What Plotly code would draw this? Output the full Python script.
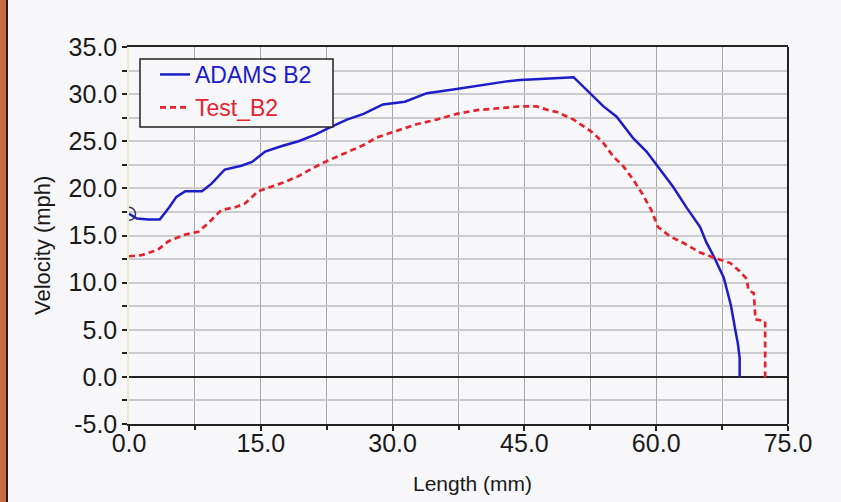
import plotly.graph_objects as go

# ---- data ----
adams_x = [0, 0.9, 2.2, 3.5, 4.5, 5.4, 6.4, 8.3, 9.4, 10.9, 12.8, 14.0, 15.5, 17.4, 19.3,
           21.2, 22.7, 24.8, 26.7, 28.9, 31.4, 33.9, 36.9, 39.6, 42.6, 44.5, 47.7, 49.0,
           50.6, 52.5, 54.0, 55.5, 57.4, 58.9, 60.4, 61.9, 63.5, 65.0, 65.7, 66.6, 67.7,
           68.5, 69.0, 69.3, 69.5, 69.5]
adams_y = [17.3, 16.8, 16.7, 16.7, 17.9, 19.1, 19.7, 19.7, 20.5, 22.0, 22.4, 22.8, 23.9,
           24.5, 25.0, 25.7, 26.4, 27.3, 27.9, 28.9, 29.2, 30.1, 30.5, 30.9, 31.3, 31.5,
           31.6, 31.7, 31.8, 30.1, 28.7, 27.6, 25.3, 23.9, 22.1, 20.2, 17.9, 15.9, 14.3,
           12.7, 10.5, 7.6, 5.0, 3.5, 2.0, 0.0]

test_x = [0, 1.4, 3.3, 4.5, 6.4, 7.9, 9.0, 10.5, 12.1, 13.2, 14.7, 16.2, 17.8, 19.3, 20.8,
          22.3, 24.0, 26.7, 28.2, 30.5, 32.7, 35.0, 37.3, 39.6, 42.2, 44.5, 46.4, 47.7,
          48.7, 50.6, 51.7, 52.8, 54.0, 55.1, 56.3, 57.4, 58.5, 59.5, 60.2, 61.6, 63.1,
          65.0, 66.7, 68.4, 69.5, 70.3, 70.5, 71.1, 71.3, 72.4, 72.4]
test_y = [12.8, 12.9, 13.5, 14.4, 15.1, 15.4, 16.3, 17.7, 18.0, 18.4, 19.7, 20.2, 20.7,
          21.3, 22.1, 22.8, 23.5, 24.6, 25.4, 26.1, 26.8, 27.3, 27.9, 28.3, 28.5, 28.7,
          28.7, 28.3, 28.1, 27.3, 26.6, 25.9, 24.8, 23.4, 22.3, 20.9, 19.3, 17.6, 15.9,
          14.9, 14.2, 13.2, 12.6, 12.1, 11.2, 10.4, 9.2, 8.9, 6.1, 5.9, -0.4]

x_ticks = [0, 15, 30, 45, 60, 75]
x_tick_labels = ["0.0", "15.0", "30.0", "45.0", "60.0", "75.0"]
y_ticks = [-5, 0, 5, 10, 15, 20, 25, 30, 35]
y_tick_labels = ["-5.0", "0.0", "5.0", "10.0", "15.0", "20.0", "25.0", "30.0", "35.0"]

BG = "#f7f7f9"
BLUE = "#1c1cc8"
RED = "#e4232e"
FONT = "Liberation Sans, Arial, sans-serif"

fig = go.Figure()
fig.add_trace(go.Scatter(
    x=adams_x, y=adams_y, mode="lines",
    name=f"<span style='color:{BLUE}'>ADAMS B2</span>",
    line=dict(color=BLUE, width=2.5)))
fig.add_trace(go.Scatter(
    x=test_x, y=test_y, mode="lines",
    name=f"<span style='color:{RED}'>Test_B2</span>",
    line=dict(color=RED, width=2.7, dash="6px,4px")))
fig.add_trace(go.Scatter(
    x=[adams_x[0]], y=[adams_y[0]], mode="markers", showlegend=False,
    marker=dict(symbol="circle-open", size=13, color="#333355", line=dict(width=1.5))))

W, H = 841, 502
ml, mr, mt, mb = 129, 53, 47, 78
pw, ph = W - ml - mr, H - mt - mb

def px2paper_x(p):
    return (p - ml) / pw

def px2paper_y(p):
    return (H - mb - p) / ph

fig.update_layout(
    width=W, height=H,
    margin=dict(l=ml, r=mr, t=mt, b=mb),
    paper_bgcolor=BG, plot_bgcolor=BG,
    font=dict(family=FONT, color="#1a1a1a"),
    showlegend=True,
    legend=dict(
        x=px2paper_x(155), y=px2paper_y(53), xanchor="left", yanchor="top",
        bgcolor="rgba(0,0,0,0)", borderwidth=0,
        font=dict(size=23, family=FONT), tracegroupgap=0,
        itemwidth=30),
    xaxis=dict(
        range=[0, 75], tickvals=x_ticks, ticktext=x_tick_labels,
        ticks="outside", ticklen=5, tickcolor="#222222", tickwidth=1.5,
        tickfont=dict(size=25, family=FONT, color="#1a1a1a"),
        ticklabelstandoff=-9,
        showgrid=True, gridcolor="#a9a9a9", gridwidth=1,
        minor=dict(dtick=7.5, tick0=0, ticks="outside", ticklen=4, tickcolor="#222222",
                   showgrid=True, gridcolor="#a9a9a9", gridwidth=1),
        showline=True, linecolor="#222222", linewidth=2, mirror=True,
        zeroline=False),
    yaxis=dict(
        range=[-5, 35], tickvals=y_ticks, ticktext=y_tick_labels,
        ticks="outside", ticklen=5, tickcolor="#222222", tickwidth=1.5,
        tickfont=dict(size=25, family=FONT, color="#1a1a1a"),
        showgrid=True, gridcolor="#cbcbce", gridwidth=1.5,
        minor=dict(dtick=2.5, tick0=0, ticks="outside", ticklen=5, tickcolor="#222222",
                   showgrid=True, gridcolor="#cbcbce", gridwidth=1.5),
        showline=True, linecolor="#ecebc8", linewidth=1.5, mirror=False,
        zeroline=True, zerolinecolor="#222222", zerolinewidth=1.5),
    shapes=[
        # right border of plot frame
        dict(type="line", xref="paper", yref="paper", x0=1, x1=1, y0=0, y1=1,
             line=dict(color="#222222", width=2)),
        # legend box
        dict(type="rect", xref="paper", yref="paper",
             x0=px2paper_x(140), x1=px2paper_x(333), y0=px2paper_y(127), y1=px2paper_y(59),
             fillcolor=BG, line=dict(color="#222222", width=1.5), layer="above"),
        # left window edge decoration
        dict(type="rect", xref="paper", yref="paper",
             x0=px2paper_x(0), x1=px2paper_x(6), y0=px2paper_y(H), y1=px2paper_y(0),
             fillcolor="#c96b45", line=dict(width=0), layer="above"),
        dict(type="rect", xref="paper", yref="paper",
             x0=px2paper_x(6), x1=px2paper_x(8), y0=px2paper_y(H), y1=px2paper_y(0),
             fillcolor="#2a1a14", line=dict(width=0), layer="above"),
    ],
    annotations=[
        dict(text="Velocity (mph)", xref="paper", yref="paper",
             x=px2paper_x(42), y=px2paper_y(246), xanchor="center", yanchor="middle",
             textangle=-90, showarrow=False,
             font=dict(size=22, family=FONT, color="#1a1a1a")),
        dict(text="Length (mm)", xref="paper", yref="paper",
             x=px2paper_x(472), y=px2paper_y(483), xanchor="center", yanchor="middle",
             showarrow=False,
             font=dict(size=21, family=FONT, color="#1a1a1a")),
    ],
)

fig.write_html(
    "out.html",
    config={"displayModeBar": False},
    post_script="document.body.style.margin='0';document.body.style.overflow='hidden';"
                "document.body.style.background='" + BG + "';",
)
